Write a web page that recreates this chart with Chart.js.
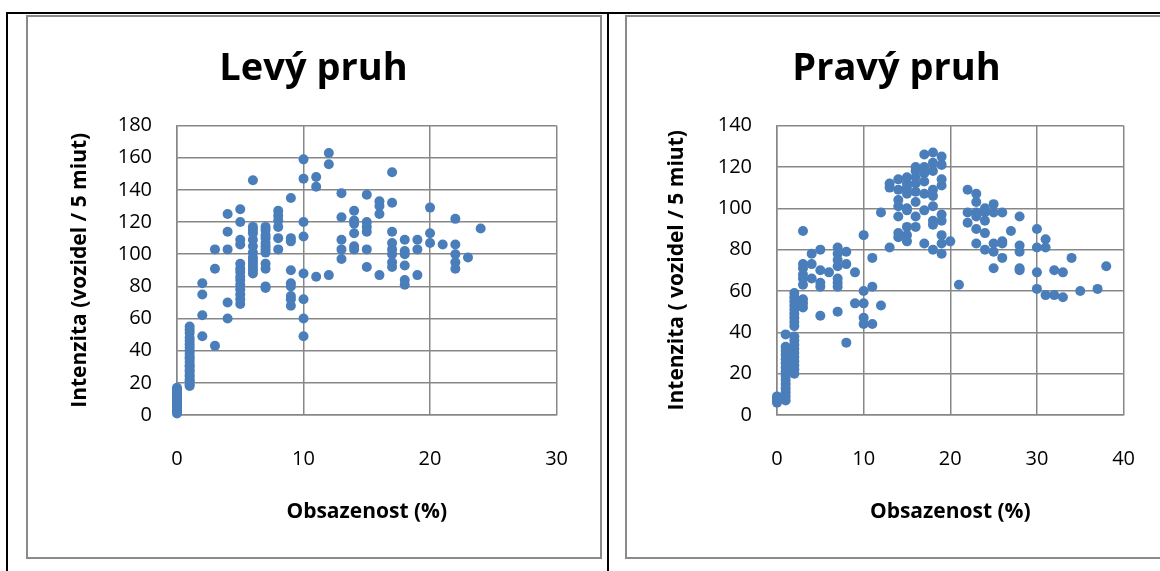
<!DOCTYPE html>
<html>
<head>
<meta charset="utf-8">
<script src="https://cdn.jsdelivr.net/npm/chart.js@4/dist/chart.umd.min.js"></script>
<style>
  body { margin: 0; background: #fff; width: 1160px; height: 571px; overflow: hidden; position: relative; }
  .cara { position: absolute; background: #000; }
  .ramec { position: absolute; border: 2px solid #8a8a8a; box-sizing: border-box; background: #fff; }
  .plocha { position: absolute; }
</style>
</head>
<body>
<div class="cara" style="left:6px;top:12px;width:1154px;height:2px"></div>
<div class="cara" style="left:6px;top:12px;width:2px;height:559px"></div>
<div class="cara" style="left:607px;top:12px;width:2px;height:559px"></div>
<div class="ramec" style="left:26px;top:15px;width:576px;height:544px"></div>
<div class="ramec" style="left:625px;top:15px;width:600px;height:544px"></div>
<div class="plocha" style="left:28px;top:17px;width:572px;height:540px"><canvas id="levy"></canvas></div>
<div class="plocha" style="left:627px;top:17px;width:540px;height:540px"><canvas id="pravy"></canvas></div>

<script>
// Levý pruh - obsazenost (%) a intenzity odečtené pro každou hodnotu obsazenosti
const levyObsazenost = [0,1,2,3,4,5,6,7,8,9,10,11,12,13,14,15,16,17,18,19,20,21,22,23,24];
const levyIntenzita = [
  [1,2,3,4,5,6,7,8,9,10,11,12,13,14,15,16,17],
  [18,19,21,22,24,25,27,28,30,31,33,35,36,38,40,42,44,46,48,51,53,55],
  [82,75,62,49],
  [103,91,43],
  [125,114,103,70,60],
  [128,120,109,106,94,91,89,86,84,81,78,75,72,69],
  [146,117,115,113,109,105,101,98,96,94,92,90,88],
  [117,115,112,110,107,105,103,101,94,91,80,79],
  [127,124,121,117,110,103],
  [135,110,108,90,82,80,74,72,68],
  [159,147,120,111,88,72,60,49],
  [148,142,86],
  [163,156,87],
  [138,123,109,103,97],
  [127,121,119,113,105,103],
  [137,120,117,114,103,92],
  [133,130,125,87],
  [151,132,114,107,103,100,95,92],
  [109,102,100,93,84,81],
  [109,103,87],
  [129,113,107],
  [106],
  [122,106,100,95,91],
  [98],
  [116]
];

// Pravý pruh
const pravyObsazenost = [0,1,2,3,4,5,6,7,8,9,10,11,12,13,14,15,16,17,18,19,20,21,22,23,24,25,26,27,28,30,31,32,33,34,35,37,38];
const pravyIntenzita = [
  [9,6,7,8],
  [39,33,31,29,27,25,23,21,19,17,15,13,11,9,7],
  [59,57,55,53,51,49,47,45,43,38,36,34,32,30,28,26,24,22,20],
  [89,73,71,68,66,63,56,54,52],
  [78,73,66],
  [80,70,64,62,48],
  [69],
  [81,78,75,72,66,64,62,50],
  [79,73,35],
  [69,54],
  [87,60,54,47,44],
  [76,62,44],
  [98,53],
  [112,110,81],
  [114,109,104,101,96,88,86],
  [115,112,110,107,100,99,91,87,84],
  [120,118,115,112,108,103,96,91],
  [126,120,117,113,107,99,83],
  [127,122,118,109,106,101,94,92,80],
  [125,121,114,111,97,94,87,83,78],
  [84],
  [63],
  [109,98,93],
  [107,103,98,96,90,83],
  [100,98,94,88,80],
  [102,98,83,79,71],
  [98,84,83,76],
  [89],
  [96,82,79,71,70],
  [90,81,69,61],
  [85,81,58],
  [70,58],
  [69,57],
  [76],
  [60],
  [61],
  [72]
];

const levyOsaX = { max: 30, krok: 10 };
const levyOsaY = { max: 180, krok: 20 };
const pravyOsaX = { max: 40, krok: 10 };
const pravyOsaY = { max: 140, krok: 20 };

const modra = '#4A7EBB';
const seda = '#878787';
const pismo = "'Open Sans', sans-serif";

Chart.defaults.color = '#000';
Chart.defaults.font.family = pismo;

function body(obsazenost, intenzita) {
  const vysledek = [];
  obsazenost.forEach((x, i) => {
    intenzita[i].forEach(y => vysledek.push({ x: x, y: y }));
  });
  return vysledek;
}

// okraje: [vlevo, vpravo], sirkaY = šířka osy Y (od levého okraje k ploše grafu)
function graf(id, nadpis, titulekY, obsazenost, intenzita, osaX, osaY, okraje, sirkaY, odsazeniTitulku) {
  return new Chart(document.getElementById(id), {
    type: 'scatter',
    data: {
      datasets: [{
        data: body(obsazenost, intenzita),
        backgroundColor: modra,
        borderColor: modra,
        borderWidth: 0,
        pointRadius: 5,
        pointHoverRadius: 5,
        clip: false
      }]
    },
    options: {
      responsive: true,
      maintainAspectRatio: false,
      animation: false,
      layout: { padding: { left: okraje[0], right: okraje[1], top: 0, bottom: 0 } },
      plugins: {
        legend: { display: false },
        tooltip: { enabled: false },
        title: {
          display: true,
          text: nadpis,
          font: { size: 38, weight: 'bold', family: pismo },
          padding: { top: 29, bottom: 34 }
        }
      },
      scales: {
        x: {
          type: 'linear',
          min: 0,
          max: osaX.max,
          ticks: { stepSize: osaX.krok, padding: 32, font: { size: 20 } },
          grid: { color: seda, lineWidth: 1.5, drawTicks: false },
          border: { color: seda, width: 1.5 },
          title: {
            display: true,
            text: 'Obsazenost (%)',
            font: { size: 21, weight: 'bold' },
            padding: { top: 0, bottom: 32 }
          },
          afterFit: s => { s.height = 142; }
        },
        y: {
          type: 'linear',
          min: 0,
          max: osaY.max,
          ticks: { stepSize: osaY.krok, padding: 25, font: { size: 20 } },
          grid: { color: seda, lineWidth: 1.5, drawTicks: false },
          border: { color: seda, width: 1.5 },
          title: {
            display: true,
            text: titulekY,
            font: { size: 21, weight: 'bold' },
            padding: { top: odsazeniTitulku, bottom: 0 }
          },
          afterFit: s => { s.width = sirkaY; }
        }
      }
    }
  });
}

graf('levy', 'Levý pruh', 'Intenzita (vozidel / 5 miut)', levyObsazenost, levyIntenzita, levyOsaX, levyOsaY, [20, 21], 129, 19);
graf('pravy', 'Pravý pruh', 'Intenzita ( vozidel / 5 miut)', pravyObsazenost, pravyIntenzita, pravyOsaX, pravyOsaY, [22, 23], 128, 15);
</script>
</body>
</html>
